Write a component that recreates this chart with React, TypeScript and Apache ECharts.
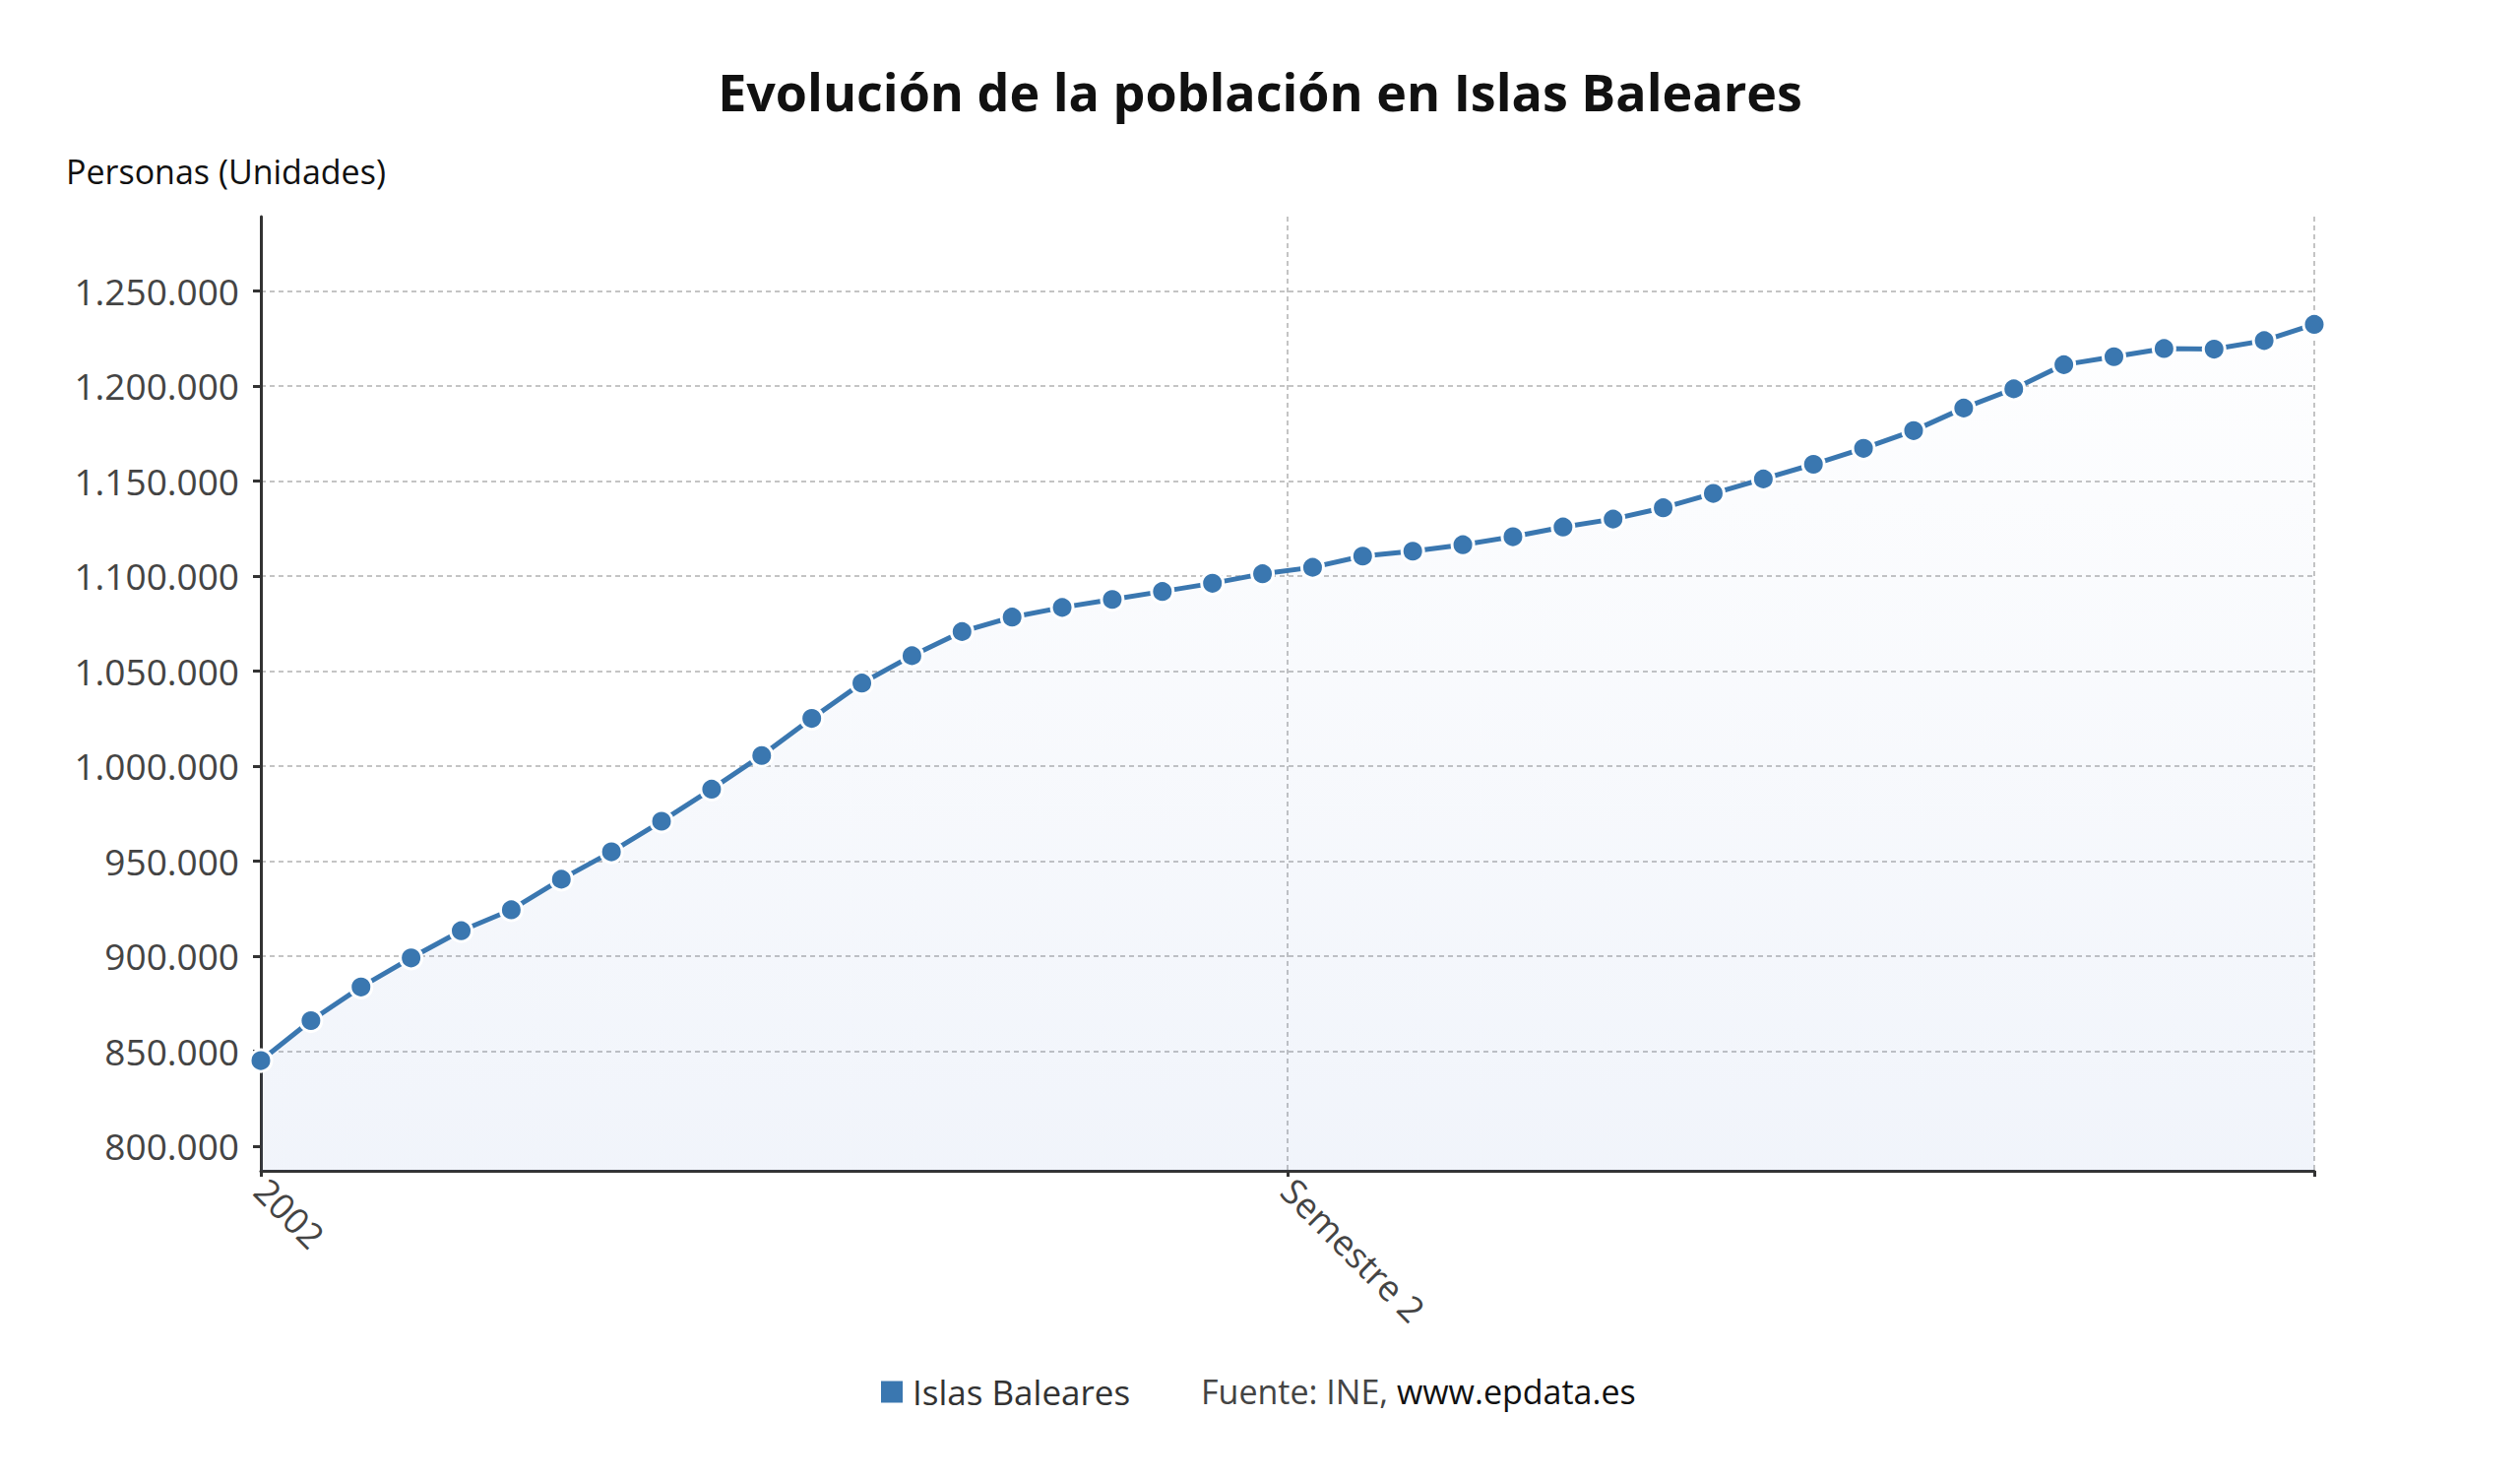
import React, { useEffect, useRef } from 'react';
import * as echarts from 'echarts';

const periods = [
  '2002 S1', '2002 S2', '2003 S1', '2003 S2', '2004 S1', '2004 S2', '2005 S1', '2005 S2',
  '2006 S1', '2006 S2', '2007 S1', '2007 S2', '2008 S1', '2008 S2', '2009 S1', '2009 S2',
  '2010 S1', '2010 S2', '2011 S1', '2011 S2', '2012 S1', '2012 S2', '2013 S1', '2013 S2',
  '2014 S1', '2014 S2', '2015 S1', '2015 S2', '2016 S1', '2016 S2', '2017 S1', '2017 S2',
  '2018 S1', '2018 S2', '2019 S1', '2019 S2', '2020 S1', '2020 S2', '2021 S1', '2021 S2',
  '2022 S1', '2022 S2',
];

const poblacion = [
  845000, 866000, 883700, 899000, 913300, 924300, 940400, 954800, 970900, 987800,
  1005500, 1025000, 1043600, 1058000, 1070700, 1078300, 1083400, 1087600, 1091800, 1096100,
  1101100, 1104500, 1110400, 1113000, 1116400, 1120600, 1125700, 1129900, 1135800, 1143400,
  1151000, 1158700, 1167100, 1176400, 1188300, 1198400, 1211100, 1215300, 1219600, 1219300,
  1223800, 1232300,
];

const yTicks = [800000, 850000, 900000, 950000, 1000000, 1050000, 1100000, 1150000, 1200000, 1250000];
const xTickPositions = [0, 20.5];
const xTickLabels = ['2002', 'Semestre 2'];
const xGridPositions = [0, 20.5, 41];

const seriesName = 'Islas Baleares';
const titleText = 'Evolución de la población en Islas Baleares';
const yName = 'Personas (Unidades)';

const FONT = "'Open Sans', 'Noto Sans', sans-serif";

function fmt(v: number): string {
  return String(Math.round(v)).replace(/\B(?=(\d{3})+(?!\d))/g, '.');
}

export default function App() {
  const ref = useRef<HTMLDivElement>(null);
  useEffect(() => {
    if (!ref.current) return;
    const chart = echarts.init(ref.current, null, { renderer: 'svg' });
    const splitColors = ['transparent'];
    for (let i = 0; i < yTicks.length; i++) splitColors.push('#c4c4c4');
    splitColors.push('transparent');
    chart.setOption({
      animation: false,
      backgroundColor: '#ffffff',
      textStyle: { fontFamily: FONT },
      title: {
        text: titleText,
        left: 'center',
        top: 61,
        textStyle: { fontSize: 52, fontWeight: 'bold', color: '#111', fontFamily: FONT },
      },
      legend: {
        left: 893,
        top: 1396,
        padding: 0,
        icon: 'rect',
        itemWidth: 24,
        itemHeight: 24,
        itemGap: 10,
        data: [seriesName],
        textStyle: { fontSize: 35, color: '#333', fontFamily: FONT, padding: [0, 0, 0, 4] },
      },
      grid: { left: 265, right: 209, top: 220, bottom: 314, containLabel: false },
      xAxis: {
        type: 'value',
        min: 0,
        max: periods.length - 1,
        interval: (periods.length - 1) / 2,
        axisLine: { show: true, lineStyle: { color: '#333', width: 3 } },
        axisTick: { show: true, customValues: xGridPositions, length: 6, lineStyle: { color: '#333', width: 3 } },
        axisLabel: {
          customValues: xTickPositions,
          rotate: -45,
          fontSize: 36,
          color: '#444',
          fontFamily: FONT,
          margin: 14,
          formatter: (v: number) => {
            const i = xTickPositions.indexOf(v);
            return i >= 0 ? xTickLabels[i] : '';
          },
        },
        splitLine: { show: true, lineStyle: { color: '#c4c4c4', width: 2, type: [5, 4] } },
      },
      yAxis: {
        type: 'value',
        min: 787000,
        max: 1289000,
        splitNumber: 10,
        axisLine: { show: true, lineStyle: { color: '#333', width: 3 } },
        axisTick: { show: true, customValues: yTicks, length: 8, lineStyle: { color: '#333', width: 3 } },
        axisLabel: {
          customValues: yTicks,
          fontSize: 37,
          color: '#444',
          fontFamily: FONT,
          margin: 22,
          formatter: (v: number) => fmt(v),
        },
        splitLine: { show: true, lineStyle: { color: splitColors, width: 2, type: [5, 4] } },
      },
      graphic: [
        {
          type: 'text',
          left: 67,
          top: 157,
          style: { text: yName, fontSize: 34, fill: '#111', fontFamily: FONT },
        },
        {
          type: 'text',
          left: 1220,
          top: 1396,
          style: {
            text: '{a|Fuente: INE, }{b|www.epdata.es}',
            rich: {
              a: { fontSize: 34, fill: '#444', fontFamily: FONT },
              b: { fontSize: 34, fill: '#111', fontFamily: FONT },
            },
          },
        },
      ],
      series: [
        {
          type: 'line',
          name: seriesName,
          data: poblacion.map((v, i) => [i, v]),
          symbol: 'circle',
          symbolSize: 22,
          showAllSymbol: true,
          clip: false,
          lineStyle: { color: '#3a77b0', width: 5 },
          itemStyle: { color: '#3a77b0', borderColor: '#ffffff', borderWidth: 3 },
          areaStyle: {
            color: new echarts.graphic.LinearGradient(0, 0, 0, 1, [
              { offset: 0, color: 'rgba(70,115,200,0.01)' },
              { offset: 1, color: 'rgba(70,115,200,0.11)' },
            ]),
          },
        },
      ],
    });
    return () => chart.dispose();
  }, []);
  return (
    <div
      ref={ref}
      style={{ position: 'absolute', left: 0, top: 0, width: 2560, height: 1503 }}
    />
  );
}
